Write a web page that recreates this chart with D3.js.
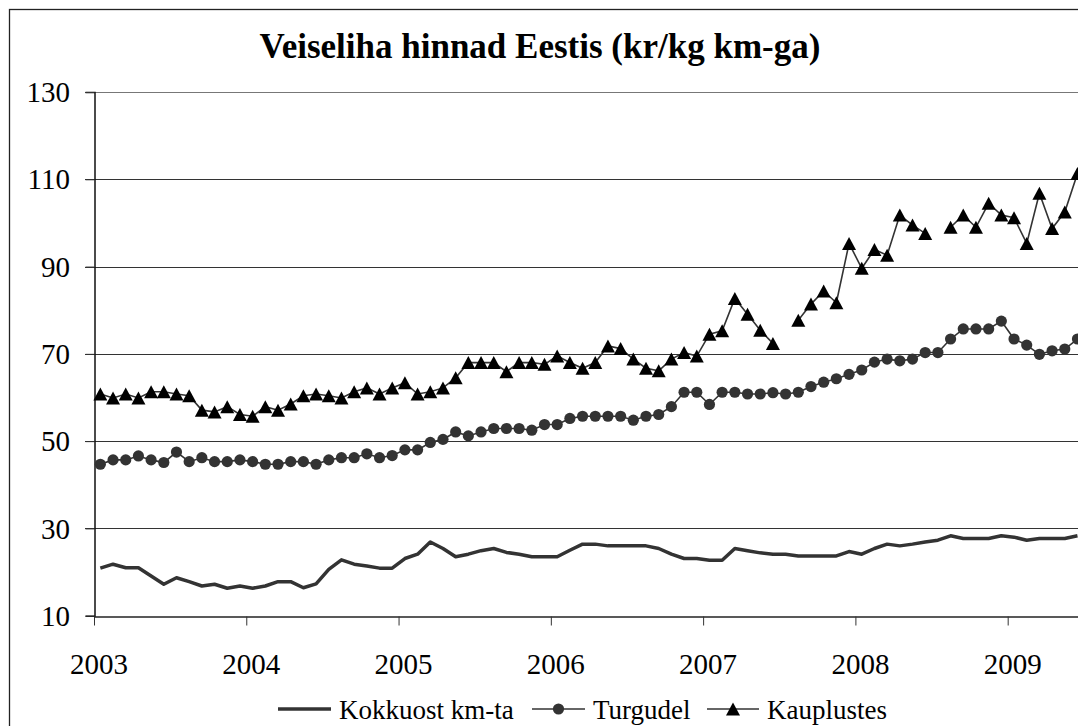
<!DOCTYPE html>
<html>
<head>
<meta charset="utf-8">
<script src="https://cdn.jsdelivr.net/npm/d3@7"></script>
<style>
  body { margin: 0; background: #fff; }
  text { font-family: 'Liberation Serif', Tinos, 'Times New Roman', Times, 'DejaVu Serif', serif; }
</style>
</head>
<body>
<div id="chart"></div>
<script>
// monthly prices, Jan 2003 .. Jun 2009
const startYear = 2003;
const yearLabels = ["2003", "2004", "2005", "2006", "2007", "2008", "2009"];
const yTicks = [10, 30, 50, 70, 90, 110, 130];
const seriesNames = ["Kokkuost km-ta", "Turgudel", "Kauplustes"];

const kokkuost = [
  20.9, 21.8, 21.0, 21.0, 19.1, 17.2, 18.7, 17.8, 16.8, 17.2, 16.3, 16.8,
  16.3, 16.8, 17.8, 17.8, 16.4, 17.3, 20.6, 22.8, 21.8, 21.4, 20.9, 20.9,
  23.1, 24.1, 26.9, 25.4, 23.5, 24.1, 24.9, 25.4, 24.5, 24.1, 23.5, 23.5,
  23.5, 25.0, 26.4, 26.4, 26.0, 26.0, 26.0, 26.0, 25.4, 24.1, 23.1, 23.1,
  22.7, 22.7, 25.4, 24.9, 24.4, 24.1, 24.1, 23.7, 23.7, 23.7, 23.7, 24.7,
  24.1, 25.4, 26.4, 26.0, 26.4, 26.9, 27.3, 28.3, 27.7, 27.7, 27.7, 28.3,
  28.0, 27.3, 27.7, 27.7, 27.7, 28.3
];

const turgudel = [
  44.7, 45.7, 45.7, 46.6, 45.7, 45.1, 47.5, 45.3, 46.2, 45.3, 45.3, 45.7,
  45.3, 44.7, 44.7, 45.3, 45.3, 44.7, 45.7, 46.2, 46.2, 47.1, 46.2, 46.7,
  48.0, 48.0, 49.7, 50.4, 52.1, 51.2, 52.1, 52.9, 52.9, 52.9, 52.5, 53.8,
  53.8, 55.2, 55.7, 55.7, 55.7, 55.7, 54.8, 55.7, 56.1, 57.9, 61.2, 61.2,
  58.4, 61.2, 61.2, 60.8, 60.8, 61.1, 60.8, 61.2, 62.5, 63.5, 64.3, 65.3,
  66.3, 68.1, 68.8, 68.4, 68.8, 70.3, 70.3, 73.4, 75.7, 75.7, 75.7, 77.5,
  73.4, 72.0, 69.9, 70.7, 71.1, 73.4
];

const kauplustes = [
  60.8, 59.9, 60.8, 59.9, 61.3, 61.3, 60.8, 60.4, 57.1, 56.7, 57.9, 56.1,
  55.7, 57.9, 57.1, 58.5, 60.4, 60.8, 60.4, 59.9, 61.3, 62.2, 60.8, 62.2,
  63.4, 60.8, 61.3, 62.2, 64.5, 68.0, 68.0, 68.0, 65.9, 68.0, 68.0, 67.6,
  69.5, 68.0, 66.7, 68.0, 71.8, 71.2, 68.8, 66.7, 66.1, 68.8, 70.3, 69.5,
  74.5, 75.3, 82.7, 79.1, 75.4, 72.4, null, 77.7, 81.4, 84.4, 81.7, 95.3,
  89.6, 93.9, 92.6, 101.8, 99.5, 97.6, null, 99.0, 101.8, 99.0, 104.5, 101.8,
  101.2, 95.3, 106.8, 98.7, 102.5, 111.3
];

const width = 1078;
const height = 726;
const months = kokkuost.length;

const svg = d3.select("#chart")
  .append("svg")
  .attr("width", width)
  .attr("height", height)
  .style("display", "block");

// outer chart frame
svg.append("rect")
  .attr("x", 9.5)
  .attr("y", 9.5)
  .attr("width", 1100)
  .attr("height", 740)
  .attr("fill", "#fff")
  .attr("stroke", "#222")
  .attr("stroke-width", 1.3);

svg.append("text")
  .attr("x", 540)
  .attr("y", 58)
  .attr("text-anchor", "middle")
  .attr("font-weight", "bold")
  .attr("font-size", 35)
  .text("Veiseliha hinnad Eestis (kr/kg km-ga)");

// scales ======
const step = 12.69;
const x = d3.scaleLinear()
  .domain([0, months])
  .range([94, 94 + months * step]);

const y = d3.scaleLinear()
  .domain([10, 130])
  .range([615.7, 92]);

const xc = (d, i) => x(i + 0.5);

// gridlines
svg.append("g")
  .selectAll("line")
  .data(yTicks.slice(1))
  .join("line")
  .attr("x1", 85)
  .attr("x2", width)
  .attr("y1", (d) => Math.round(y(d)) + 0.5)
  .attr("y2", (d) => Math.round(y(d)) + 0.5)
  .attr("stroke", (d) => (d === 130 ? "#777" : "#333"))
  .attr("stroke-width", 1);

// y axis
const yAxis = svg.append("g")
  .attr("transform", "translate(94.5,0)")
  .call(d3.axisLeft(y).tickValues(yTicks).tickSize(9).tickFormat(""));
yAxis.select(".domain").attr("stroke", "#111").attr("stroke-width", 1.5);
yAxis.selectAll(".tick line").attr("stroke", "#333");

svg.append("g")
  .selectAll("text")
  .data(yTicks)
  .join("text")
  .attr("x", 70)
  .attr("y", (d) => y(d))
  .attr("dy", "0.35em")
  .attr("text-anchor", "end")
  .attr("font-size", 29)
  .text((d) => d);

// x axis
const yearStarts = yearLabels.map((d, i) => i * 12);
const xAxis = svg.append("g")
  .attr("transform", `translate(0,${Math.round(y(10)) + 0.5})`)
  .call(d3.axisBottom(x).tickValues(yearStarts).tickSize(9).tickFormat("").tickSizeOuter(0));
xAxis.select(".domain").attr("stroke", "#222").attr("stroke-width", 1.5);
xAxis.selectAll(".tick line").attr("stroke", "#333");

svg.append("g")
  .selectAll("text")
  .data(yearLabels)
  .join("text")
  .attr("x", (d, i) => x(yearStarts[i]) + 5)
  .attr("y", 674)
  .attr("text-anchor", "middle")
  .attr("font-size", 29)
  .text((d) => d);

// series ======
const line = d3.line()
  .defined((d) => d != null)
  .x(xc)
  .y((d) => y(d));

const plot = svg.append("g");

plot.append("path")
  .datum(kokkuost)
  .attr("fill", "none")
  .attr("stroke", "#333")
  .attr("stroke-width", 3.5)
  .attr("stroke-linejoin", "round")
  .attr("d", line);

plot.append("path")
  .datum(turgudel)
  .attr("fill", "none")
  .attr("stroke", "#333")
  .attr("stroke-width", 1.6)
  .attr("d", line);

plot.append("g")
  .selectAll("circle")
  .data(turgudel)
  .join("circle")
  .attr("cx", xc)
  .attr("cy", (d) => y(d))
  .attr("r", 5.6)
  .attr("fill", "#333");

plot.append("path")
  .datum(kauplustes)
  .attr("fill", "none")
  .attr("stroke", "#333")
  .attr("stroke-width", 1.6)
  .attr("d", line);

const tri = "M0,-6.5L7,6.5L-7,6.5Z";

plot.append("g")
  .selectAll("path")
  .data(kauplustes.map((v, i) => ({ v, i })).filter((d) => d.v != null))
  .join("path")
  .attr("transform", (d) => `translate(${x(d.i + 0.5)},${y(d.v)})`)
  .attr("d", tri)
  .attr("fill", "#000");

// legend ======
const legendY = 709;
const legendItems = [
  { name: seriesNames[0], x1: 278, x2: 331, tx: 339 },
  { name: seriesNames[1], x1: 532, x2: 585, tx: 593 },
  { name: seriesNames[2], x1: 707, x2: 759, tx: 767 },
];

const legend = svg.append("g");

legend.selectAll("line")
  .data(legendItems)
  .join("line")
  .attr("x1", (d) => d.x1)
  .attr("x2", (d) => d.x2)
  .attr("y1", legendY)
  .attr("y2", legendY)
  .attr("stroke", "#333")
  .attr("stroke-width", (d, i) => (i === 0 ? 3.5 : 1.6));

legend.append("circle")
  .attr("cx", (legendItems[1].x1 + legendItems[1].x2) / 2)
  .attr("cy", legendY)
  .attr("r", 5.6)
  .attr("fill", "#333");

legend.append("path")
  .attr("transform", `translate(${(legendItems[2].x1 + legendItems[2].x2) / 2},${legendY})`)
  .attr("d", tri)
  .attr("fill", "#000");

legend.selectAll("text")
  .data(legendItems)
  .join("text")
  .attr("x", (d) => d.tx)
  .attr("y", 719)
  .attr("font-size", 27)
  .text((d) => d.name);
</script>
</body>
</html>
